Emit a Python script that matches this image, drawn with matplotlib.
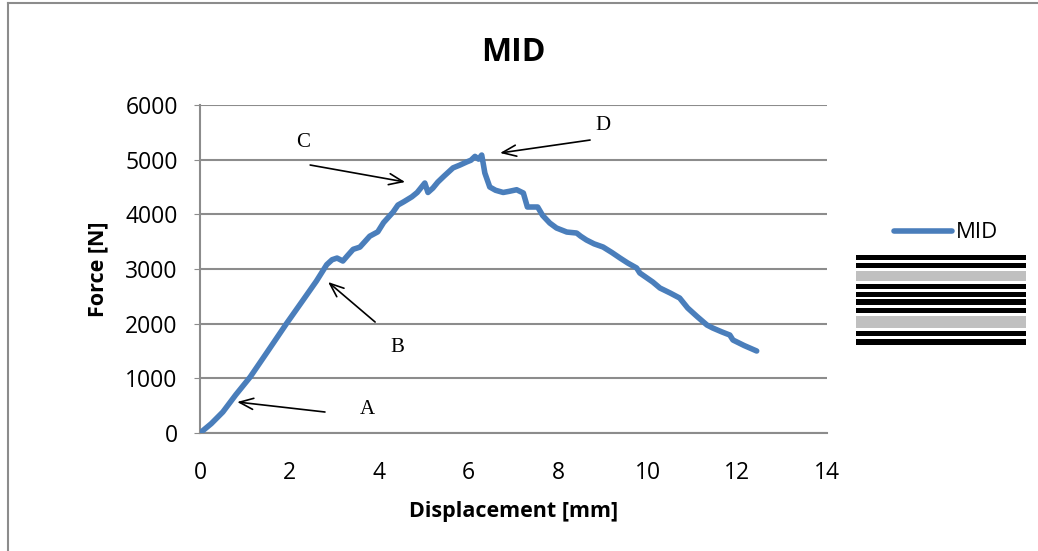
import matplotlib
matplotlib.use('Agg')
import matplotlib.pyplot as plt
from matplotlib.lines import Line2D
from matplotlib.patches import Rectangle

# displacement [mm] and force [N]
disp = [0, 0.25, 0.51, 0.8, 1.12, 1.5, 1.94, 2.30, 2.60, 2.83, 2.95, 3.06, 3.19, 3.30,
        3.42, 3.57, 3.68, 3.79, 3.97, 4.10, 4.31, 4.42, 4.55, 4.73, 4.85, 5.02, 5.09,
        5.20, 5.31, 5.45, 5.65, 5.80, 5.96, 6.05, 6.14, 6.22, 6.29, 6.33, 6.36, 6.47,
        6.60, 6.77, 6.90, 7.07, 7.22, 7.31, 7.54, 7.65, 7.81, 7.96, 8.19, 8.41, 8.50,
        8.63, 8.80, 9.00, 9.20, 9.38, 9.55, 9.75, 9.82, 10.11, 10.27, 10.50, 10.71,
        10.89, 11.10, 11.32, 11.45, 11.65, 11.83, 11.90, 12.15, 12.43]
force = [0, 170, 384, 700, 1024, 1480, 2012, 2430, 2780, 3080, 3170, 3200, 3146, 3250,
         3360, 3400, 3500, 3600, 3680, 3850, 4040, 4170, 4230, 4320, 4400, 4573, 4400,
         4480, 4590, 4700, 4850, 4900, 4960, 4990, 5060, 5010, 5085, 4900, 4756, 4500,
         4440, 4400, 4420, 4450, 4390, 4134, 4134, 3980, 3841, 3750, 3676, 3658, 3600,
         3530, 3460, 3402, 3300, 3200, 3110, 3018, 2927, 2762, 2652, 2560, 2469,
         2286, 2130, 1975, 1920, 1850, 1792, 1701, 1600, 1500]

# annotation labels: (label, text pos, arrow tail, arrow tip) in data units
notes = [
    ('A', (3.73, 421), (2.79, 384), (0.83, 567)),
    ('B', (4.40, 1555), (3.91, 2030), (2.86, 2762)),
    ('C', (2.30, 5305), (2.46, 4902), (4.58, 4591)),
    ('D', (9.00, 5634), (8.71, 5359), (6.70, 5122)),
]

# laminate stacking picture next to the legend
stripe_h = [5, 5, 10, 5, 5, 6, 5, 12, 5, 6]
stripe_c = ['k', 'k', '#c0c0c0', 'k', 'k', 'k', 'k', '#c0c0c0', 'k', 'k']

W, H = 1038, 551
fig = plt.figure(figsize=(W / 100, H / 100), dpi=100)
plt.rcParams['font.family'] = ['Open Sans', 'DejaVu Sans']

# outer chart frame
fig.add_artist(Line2D([8 / W, 8 / W], [0, 1 - 3 / H], color='#8c8c8c', lw=1.5))
fig.add_artist(Line2D([8 / W, 1], [1 - 3 / H, 1 - 3 / H], color='#8c8c8c', lw=1.5))

ax = fig.add_axes([200 / W, 1 - 433 / H, 627 / W, 328 / H])
ax.plot(disp, force, color='#4a7ebb', lw=4, solid_joinstyle='round',
        solid_capstyle='round', label='MID', zorder=3)

ax.set_xlim(0, 14)
ax.set_ylim(0, 6000)
ax.set_xticks(range(0, 15, 2))
ax.set_yticks(range(0, 6001, 1000))
ax.grid(axis='y', color='#8c8c8c', lw=1.5)
ax.set_axisbelow(True)
for s in ['top', 'right']:
    ax.spines[s].set_visible(False)
for s in ['left', 'bottom']:
    ax.spines[s].set_color('#8c8c8c')
    ax.spines[s].set_linewidth(1.5)
ax.tick_params(axis='y', length=4, color='#8c8c8c', labelsize=16.5, pad=12)
ax.tick_params(axis='x', length=0, labelsize=16.5, pad=20)

ax.set_title('MID', fontsize=23, fontweight='bold', pad=32)
ax.set_xlabel('Displacement [mm]', fontsize=15.5, fontweight='bold', labelpad=12)
ax.set_ylabel('Force [N]', fontsize=15.5, fontweight='bold', labelpad=12)

for lab, tpos, tail, tip in notes:
    ax.annotate('', xy=tip, xytext=tail,
                arrowprops=dict(arrowstyle='->,head_length=1.0,head_width=0.4',
                                color='k', lw=1.2, shrinkA=0, shrinkB=0))
    ax.text(tpos[0], tpos[1], lab, fontsize=15, family='Liberation Serif',
            ha='center', va='center')

leg = ax.legend(loc='center left', bbox_to_anchor=(885 / W, 1 - 233 / H),
                bbox_transform=fig.transFigure, frameon=False, fontsize=16,
                handlelength=2.6, handletextpad=0.2, borderaxespad=0)

# stripes
sax = fig.add_axes([856 / W, 1 - 345 / H, 170 / W, 90 / H])
sax.set_axis_off()
gap = (90 - sum(stripe_h)) / (len(stripe_h) - 1)
top = 90
for h, c in zip(stripe_h, stripe_c):
    sax.add_patch(Rectangle((0, top - h), 1, h, color=c, lw=0))
    top -= h + gap
sax.set_xlim(0, 1)
sax.set_ylim(0, 90)

fig.savefig('out.png', dpi=100)
